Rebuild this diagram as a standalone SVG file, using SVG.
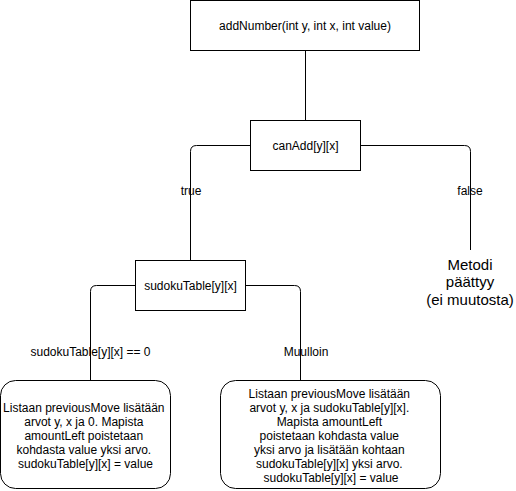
<svg xmlns="http://www.w3.org/2000/svg" width="516" height="491" viewBox="0 0 516 491">
  <style>
    .box { fill: #ffffff; stroke: #000000; stroke-width: 1; }
    .edge { fill: none; stroke: #000000; stroke-width: 1; }
    text { font-family: "Liberation Sans", Arial, Helvetica, sans-serif; fill: #000000; text-anchor: middle; }
    .t12 { font-size: 12px; }
    .t15 { font-size: 15px; }
  </style>
  <rect x="0" y="0" width="516" height="491" fill="#ffffff"/>

  <!-- connectors -->
  <g id="connectors">
    <path class="edge" d="M305.5,50.5 L305.5,120.5"/>
    <path class="edge" d="M250.5,145.5 L196.5,145.5 Q190.5,145.5 190.5,151.5 L190.5,260.5"/>
    <path class="edge" d="M360.5,145.5 L464.5,145.5 Q470.5,145.5 470.5,151.5 L470.5,250"/>
    <path class="edge" d="M135.5,285.5 L96.5,285.5 Q90.5,285.5 90.5,291.5 L90.5,380.5"/>
    <path class="edge" d="M245.5,285.5 L294.5,285.5 Q300.5,285.5 300.5,291.5 L300.5,380.5"/>
    <text class="t12" x="191" y="195">true</text>
    <text class="t12" x="470" y="195">false</text>
    <text class="t12" x="90.5" y="356">sudokuTable[y][x] == 0</text>
    <text class="t12" x="306" y="356">Muulloin</text>
  </g>

  <g id="addNumber">
    <rect class="box" x="190.5" y="0.5" width="229" height="50"/>
    <text class="t12" x="305" y="29.5">addNumber(int y, int x, int value)</text>
  </g>

  <g id="canAdd">
    <rect class="box" x="250.5" y="120.5" width="110" height="50"/>
    <text class="t12" x="305.5" y="149.5">canAdd[y][x]</text>
  </g>

  <g id="sudokuTable">
    <rect class="box" x="135.5" y="260.5" width="110" height="50"/>
    <text class="t12" x="190.5" y="289.5">sudokuTable[y][x]</text>
  </g>

  <g id="endNoChange">
    <text class="t15" x="470" y="269.5">Metodi</text>
    <text class="t15" x="470" y="287">päättyy</text>
    <text class="t15" x="470" y="304.5">(ei muutosta)</text>
  </g>

  <g id="caseZero">
    <rect class="box" x="0.5" y="380.5" width="170" height="108" rx="15" ry="15"/>
    <text class="t12" x="85.5">
      <tspan x="85.5" y="411.5">Listaan previousMove lisätään</tspan>
      <tspan x="85.5" y="425.5">arvot y, x ja 0. Mapista</tspan>
      <tspan x="85.5" y="439.5">amountLeft poistetaan</tspan>
      <tspan x="85.5" y="453.5">kohdasta value yksi arvo.</tspan>
      <tspan x="85.5" y="467.5">sudokuTable[y][x] = value</tspan>
    </text>
  </g>

  <g id="caseOther">
    <rect class="box" x="220.5" y="380.5" width="220" height="108" rx="15" ry="15"/>
    <text class="t12" x="331">
      <tspan x="331" y="397.5">Listaan previousMove lisätään</tspan>
      <tspan x="331" y="411.5">arvot y, x ja sudokuTable[y][x].</tspan>
      <tspan x="331" y="425.5">Mapista amountLeft</tspan>
      <tspan x="331" y="439.5">poistetaan kohdasta value</tspan>
      <tspan x="331" y="453.5">yksi arvo ja lisätään kohtaan</tspan>
      <tspan x="331" y="467.5">sudokuTable[y][x] yksi arvo.</tspan>
      <tspan x="331" y="481.5">sudokuTable[y][x] = value</tspan>
    </text>
  </g>
</svg>
